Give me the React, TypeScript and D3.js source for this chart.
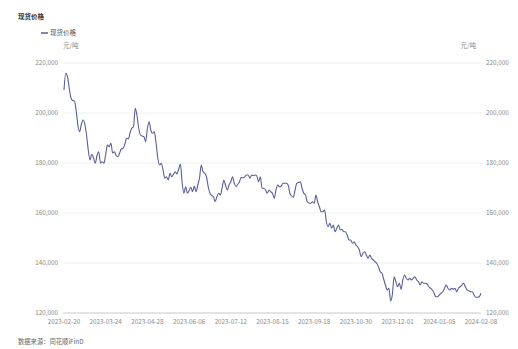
import React from "react";
import * as d3 from "d3";

const title = "现货价格";
const seriesName = "现货价格";
const unit = "元/吨";
const source = "数据来源：同花顺iFinD";

const xTickLabels = [
  "2023-02-20", "2023-03-24", "2023-04-28", "2023-06-06", "2023-07-12",
  "2023-08-15", "2023-09-18", "2023-10-30", "2023-12-01", "2024-01-05", "2024-02-08",
];
const xTickStep = 24;
const yTicks = [120000, 140000, 160000, 180000, 200000, 220000];

const prices = [
  209200, 215900, 214500, 210000, 206000, 205000, 204800, 201000, 195000, 192500,
  195500, 197200, 195500, 191000, 185000, 181200, 183500, 182000, 179900, 183000,
  184500, 179900, 180500, 179900, 183500, 187200, 186500, 187900, 184000, 184500,
  183000, 182500, 184000, 185600, 185900, 187500, 189900, 189600, 192000, 193900,
  194500, 201900, 199000, 194000, 191200, 190800, 190500, 188500, 193900, 196500,
  193000, 191900, 192500, 187900, 182000, 179200, 179900, 177200, 173900, 174500,
  173200, 175900, 174500, 175500, 176500, 175600, 177500, 179600, 172000, 167900,
  170500, 167900, 169000, 170300, 168500, 170800, 168500, 171200, 174000, 179200,
  176500, 175900, 174500, 170500, 167900, 167000, 166500, 164500, 166500, 167900,
  167200, 170000, 173200, 171000, 169200, 171200, 172500, 174500, 171900, 170500,
  171500, 172500, 174300, 174000, 174500, 175200, 175200, 173900, 175200, 175000,
  175200, 174800, 172500, 174500, 169900, 169900, 169200, 167900, 169200, 168500,
  167900, 165900, 169200, 171200, 170500, 170800, 171900, 171900, 171900, 171200,
  167900, 166800, 166300, 169200, 171900, 172200, 172500, 169900, 167900, 167200,
  164500, 164000, 163900, 164500, 163900, 167200, 164500, 162500, 160500, 160500,
  161200, 156500, 154500, 155900, 153900, 155200, 152500, 153900, 155200, 153200,
  153500, 152500, 152500, 151200, 149200, 149200, 147900, 148500, 147200, 146500,
  145200, 142500, 143900, 144500, 143200, 141900, 143200, 141900, 141200, 140500,
  139900, 138500, 136500, 135900, 133500, 131200, 129200, 129900, 124800, 127500,
  134500, 132500, 130500, 131900, 129500, 133200, 135200, 133900, 133200, 133900,
  133200, 133900, 134500, 133200, 132500, 131200, 132500, 131900, 131900, 131600,
  130500, 129900, 129200, 127900, 126500, 126500, 127200, 127900, 128500, 129900,
  131200, 129900, 129200, 129900, 129500, 129900, 128500, 129900, 130500, 131200,
  131900, 130500, 129200, 128900, 128500, 128500, 127200, 126300, 126300, 126500,
  127900,
];

const W = 518;
const H = 349;
const M = { left: 63, right: 481, top: 63, bottom: 313 };
const FONT = "'Noto Sans CJK SC', 'Noto Sans', sans-serif";

export default function App() {
  const x = d3.scaleLinear().domain([0, prices.length - 1]).range([M.left + 1, M.right]);
  const y = d3.scaleLinear().domain([120000, 220000]).range([M.bottom, M.top]);
  const line = d3
    .line<number>()
    .x((_, i) => x(i))
    .y((d) => y(d))
    .curve(d3.curveMonotoneX);
  const fmt = d3.format(",");
  const lineColor = "#5a5e98";
  const tickColor = "#8a8a8a";

  return (
    <svg
      width={W}
      height={H}
      style={{ position: "absolute", left: 0, top: 0, background: "#fff" }}
      fontFamily={FONT}
    >
      <text x={18} y={19} fontSize={6.5} fill="#333" fontWeight="bold">{title}</text>
      <line x1={41} x2={48} y1={33} y2={33} stroke={lineColor} strokeWidth={1.5} />
      <text x={50} y={35.3} fontSize={6.5} fill="#555">{seriesName}</text>
      <text x={63} y={48} fontSize={6.5} fill={tickColor}>{unit}</text>
      <text x={476} y={48} fontSize={6.5} fill={tickColor} textAnchor="end">{unit}</text>

      {yTicks.map((t) => (
        <g key={t}>
          <line
            x1={M.left}
            x2={M.right}
            y1={y(t)}
            y2={y(t)}
            stroke={t === 120000 ? "#c8c8c8" : "#ececec"}
            strokeWidth={t === 120000 ? 1 : 0.8}
          />
          <text x={58} y={y(t) + 2.2} fontSize={6.3} fill={tickColor} textAnchor="end">
            {fmt(t)}
          </text>
          <text x={486} y={y(t) + 2.2} fontSize={6.3} fill={tickColor} textAnchor="start">
            {fmt(t)}
          </text>
        </g>
      ))}

      {xTickLabels.map((lab, k) => (
        <text
          key={lab}
          x={x(k * xTickStep)}
          y={324}
          fontSize={6.3}
          fill={tickColor}
          textAnchor="middle"
        >
          {lab}
        </text>
      ))}

      <path d={line(prices) || ""} fill="none" stroke={lineColor} strokeWidth={1.1} />

      <text x={18} y={344} fontSize={6.3} fill="#666">{source}</text>
    </svg>
  );
}
